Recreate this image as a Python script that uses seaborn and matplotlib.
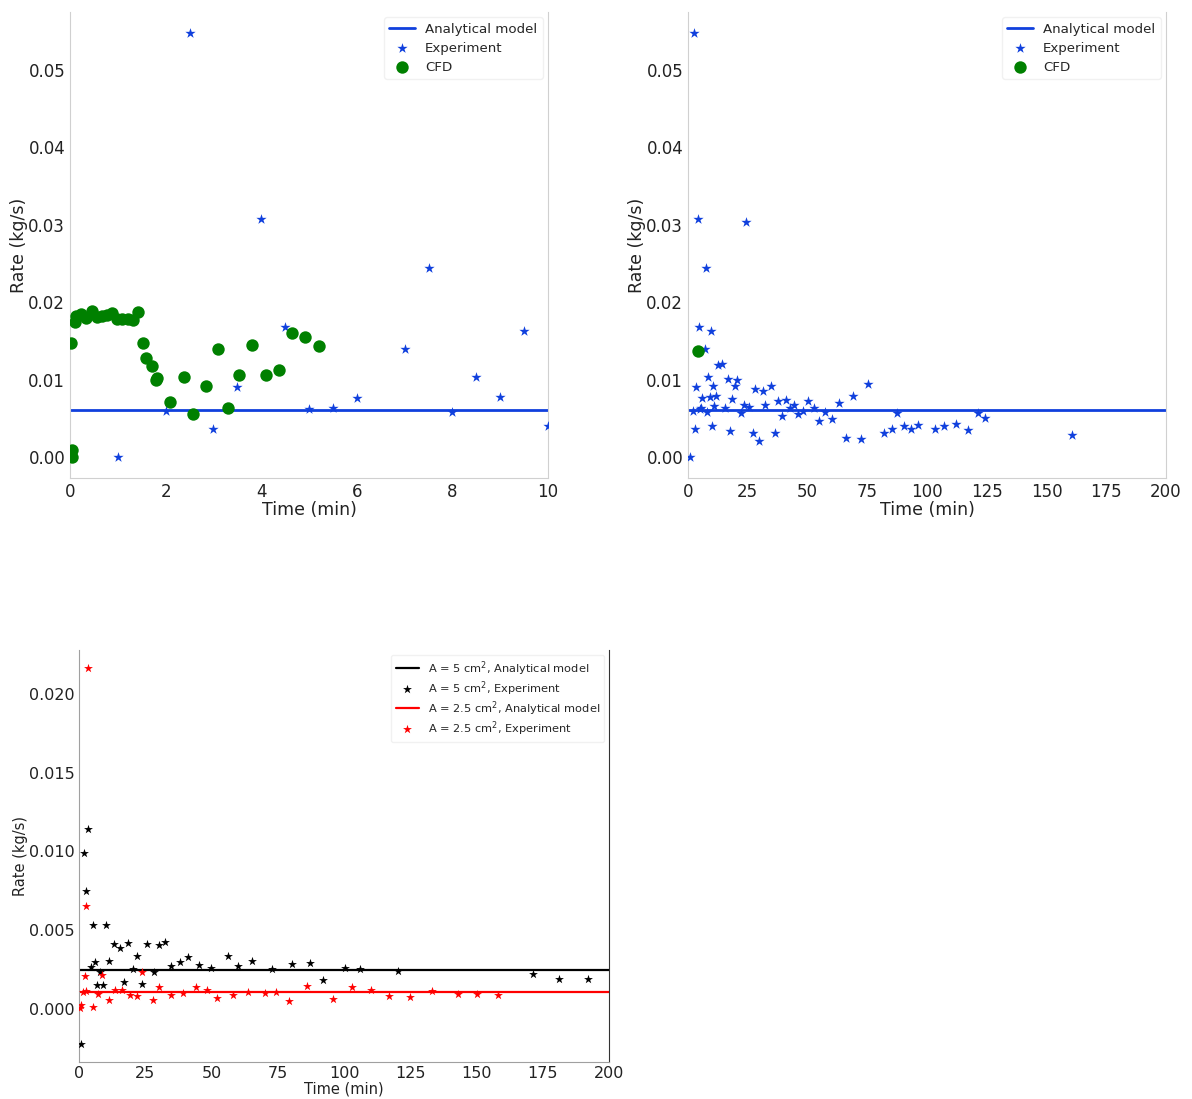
import seaborn as sns
import matplotlib
matplotlib.use('Agg')
import matplotlib.pyplot as plt

# --- data ---
# experiment, A = 5 cm2 (top plots)
exp_time = [1, 2, 2.5, 3, 3.5, 4, 4.5, 5, 5.5, 6, 7, 7.5, 8, 8.5, 9, 9.5, 10,
            10.6, 11, 11.7, 12.7, 14.1, 15.5, 16.6, 17.6, 18.6, 19.7, 20.6, 22.0,
            23.4, 24.3, 25.5, 27.1, 28.0, 29.7, 31.2, 32.2, 34.7, 36.4, 37.5, 39.2,
            40.9, 42.7, 44.4, 46.2, 48.0, 50.1, 52.7, 54.8, 57.3, 60.3, 63.3, 66.1,
            69.2, 72.3, 75.4, 82.1, 85.2, 87.3, 90.4, 93.2, 96.4, 103.3, 107.2,
            112.1, 117.3, 121.2, 124.3, 160.5]
exp_rate = [0.0000, 0.0059, 0.0548, 0.0036, 0.0091, 0.0307, 0.0168, 0.0062, 0.0063,
            0.0076, 0.0140, 0.0244, 0.0058, 0.0103, 0.0078, 0.0163, 0.0040,
            0.0092, 0.0066, 0.0079, 0.0119, 0.0120, 0.0063, 0.0101, 0.0034, 0.0075,
            0.0092, 0.0099, 0.0057, 0.0067, 0.0304, 0.0065, 0.0031, 0.0088, 0.0021,
            0.0085, 0.0067, 0.0092, 0.0031, 0.0072, 0.0053, 0.0074, 0.0063, 0.0067,
            0.0056, 0.0059, 0.0072, 0.0063, 0.0047, 0.0058, 0.0049, 0.0070, 0.0025,
            0.0079, 0.0024, 0.0094, 0.0031, 0.0036, 0.0057, 0.0040, 0.0036, 0.0041,
            0.0036, 0.0040, 0.0043, 0.0035, 0.0057, 0.0051, 0.0028]

cfd_time = [0.04, 0.04, 0.03, 0.1, 0.13, 0.24, 0.33, 0.45, 0.57, 0.66, 0.77, 0.87,
            0.99, 1.09, 1.21, 1.31, 1.42, 1.52, 1.59, 1.71, 1.80, 1.83, 2.09, 2.38,
            2.58, 2.84, 3.10, 3.30, 3.54, 3.81, 4.09, 4.37, 4.64, 4.92, 5.20]
cfd_rate = [0.0000, 0.0009, 0.0147, 0.0175, 0.0182, 0.0185, 0.0180, 0.0189, 0.0181,
            0.0182, 0.0183, 0.0186, 0.0179, 0.0178, 0.0179, 0.0177, 0.0187, 0.0148,
            0.0128, 0.0118, 0.0099, 0.0102, 0.0071, 0.0104, 0.0056, 0.0092, 0.0140,
            0.0063, 0.0106, 0.0145, 0.0106, 0.0113, 0.0160, 0.0155, 0.0143]

cfd_time_long = [4.0]
cfd_rate_long = [0.0137]

analytical_5 = 0.0061

# bottom plot, two hole areas
a5_time = [0.75, 1.8, 3.4, 2.6, 5.1, 10.0, 4.4, 6.0, 6.8, 8.9, 8.0, 11.3, 13.1, 15.4,
           17.0, 18.5, 20.4, 22.0, 23.9, 25.8, 28.4, 30.0, 32.6, 34.9, 38.2, 41.1,
           45.1, 49.9, 56.1, 60.0, 65.1, 73.0, 80.2, 87.2, 92.1, 100.2, 106.0, 120.2,
           171.4, 181.2, 192.2]
a5_rate = [-0.00224, 0.00989, 0.01141, 0.00745, 0.00533, 0.00529, 0.00265, 0.00296,
           0.00152, 0.00148, 0.0023, 0.00305, 0.00411, 0.00385, 0.00167, 0.00417,
           0.00252, 0.00337, 0.00157, 0.00413, 0.0023, 0.00406, 0.00423, 0.00273,
           0.00294, 0.00328, 0.00279, 0.00258, 0.00332, 0.00269, 0.00305, 0.00252,
           0.00284, 0.0029, 0.0018, 0.00258, 0.00252, 0.00241, 0.0022, 0.0019, 0.0019]

a25_time = [3.4, 2.5, 0.2, 0.9, 2.1, 1.6, 2.8, 5.3, 7.0, 8.6, 11.5, 13.5, 16.1, 19.1,
            22.0, 23.9, 27.8, 30.0, 34.9, 39.1, 44.0, 48.2, 52.2, 58.1, 63.9, 70.0,
            74.2, 79.1, 86.0, 96.0, 102.9, 110.0, 117.1, 125.0, 133.1, 143.1, 150.0,
            158.2]
a25_rate = [0.02163, 0.0065, 0.00004, 0.0002, 0.0021, 0.00104, 0.0011, 0.00008,
            0.00095, 0.00216, 0.00057, 0.00116, 0.00116, 0.00089, 0.00078, 0.0023,
            0.00053, 0.00138, 0.00083, 0.001, 0.00138, 0.00116, 0.00068, 0.00089,
            0.00106, 0.001, 0.00104, 0.00051, 0.00142, 0.00063, 0.00138, 0.00116,
            0.00078, 0.00074, 0.0011, 0.00095, 0.00095, 0.00085]

analytical_a5 = 0.00243
analytical_a25 = 0.00104

blue = '#1040dd'

sns.set_style('white')
plt.rcParams['font.family'] = ['DejaVu Sans']

fig = plt.figure(figsize=(11.92, 10.99), dpi=100)


def top_plot(ax, xmax, xticks, cfd_x, cfd_y):
    ax.axhline(analytical_5, color=blue, lw=2, label='Analytical model')
    sns.scatterplot(x=exp_time, y=exp_rate, marker='*', s=60, color=blue,
                    linewidth=0, label='Experiment', ax=ax, zorder=3)
    sns.scatterplot(x=cfd_x, y=cfd_y, marker='o', s=80, color='green',
                    linewidth=0, label='CFD', ax=ax, zorder=3)
    ax.set_xlim(0, xmax)
    ax.set_ylim(-0.0027, 0.0575)
    ax.set_xticks(xticks)
    ax.set_yticks([0.0, 0.01, 0.02, 0.03, 0.04, 0.05])
    ax.set_yticklabels(['0.00', '0.01', '0.02', '0.03', '0.04', '0.05'])
    ax.tick_params(labelsize=12, length=2, pad=1.5, colors='#cccccc', labelcolor='#222222')
    ax.set_xlabel('Time (min)', fontsize=12.5, color='#222222', labelpad=0)
    ax.set_ylabel('Rate (kg/s)', fontsize=12.5, color='#222222', labelpad=0.5)
    for side in ['left', 'right', 'bottom']:
        ax.spines[side].set_color('#d0d0d0')
    ax.spines['top'].set_visible(False)
    ax.legend(loc='upper right', fontsize=9.6, borderaxespad=0.4, labelspacing=0.45,
              handlelength=1.9, edgecolor='#eeeeee')


# time up to 10 min
ax1 = fig.add_axes([70 / 1192, 1 - 478 / 1099, 478 / 1192, 466 / 1099])
top_plot(ax1, 10, [0, 2, 4, 6, 8, 10], cfd_time, cfd_rate)

# time up to 200 min
ax2 = fig.add_axes([688 / 1192, 1 - 478 / 1099, 478 / 1192, 466 / 1099])
top_plot(ax2, 200, [0, 25, 50, 75, 100, 125, 150, 175, 200], cfd_time_long, cfd_rate_long)

# bottom: A = 5 and 2.5 cm2
ax3 = fig.add_axes([79 / 1192, 1 - 1062 / 1099, 530 / 1192, 412 / 1099])
ax3.axhline(analytical_a5, color='black', lw=1.6, label=r'A = 5 cm$^2$, Analytical model')
sns.scatterplot(x=a5_time, y=a5_rate, marker='*', s=45, color='black', linewidth=0,
                label=r'A = 5 cm$^2$, Experiment', ax=ax3, zorder=3)
ax3.axhline(analytical_a25, color='red', lw=1.6, label=r'A = 2.5 cm$^2$, Analytical model')
sns.scatterplot(x=a25_time, y=a25_rate, marker='*', s=45, color='red', linewidth=0,
                label=r'A = 2.5 cm$^2$, Experiment', ax=ax3, zorder=3)
ax3.set_xlim(0, 200)
ax3.set_ylim(-0.0034, 0.0228)
ax3.set_xticks([0, 25, 50, 75, 100, 125, 150, 175, 200])
ax3.set_yticks([0.0, 0.005, 0.01, 0.015, 0.02])
ax3.set_yticklabels(['0.000', '0.005', '0.010', '0.015', '0.020'])
ax3.tick_params(labelsize=11.5, length=2, pad=1, colors='#999999', labelcolor='#222222')
ax3.set_xlabel('Time (min)', fontsize=10.5, color='#222222', labelpad=0)
ax3.set_ylabel('Rate (kg/s)', fontsize=10.5, color='#222222', labelpad=0.5)
ax3.spines['left'].set_color('#a0a0a0')
ax3.spines['bottom'].set_color('#a0a0a0')
ax3.spines['right'].set_color('#333333')
ax3.spines['top'].set_visible(False)
ax3.legend(loc='upper right', fontsize=8.2, borderaxespad=0.4, labelspacing=0.12,
           edgecolor='#eeeeee')

plt.savefig('out.png', dpi=100)
